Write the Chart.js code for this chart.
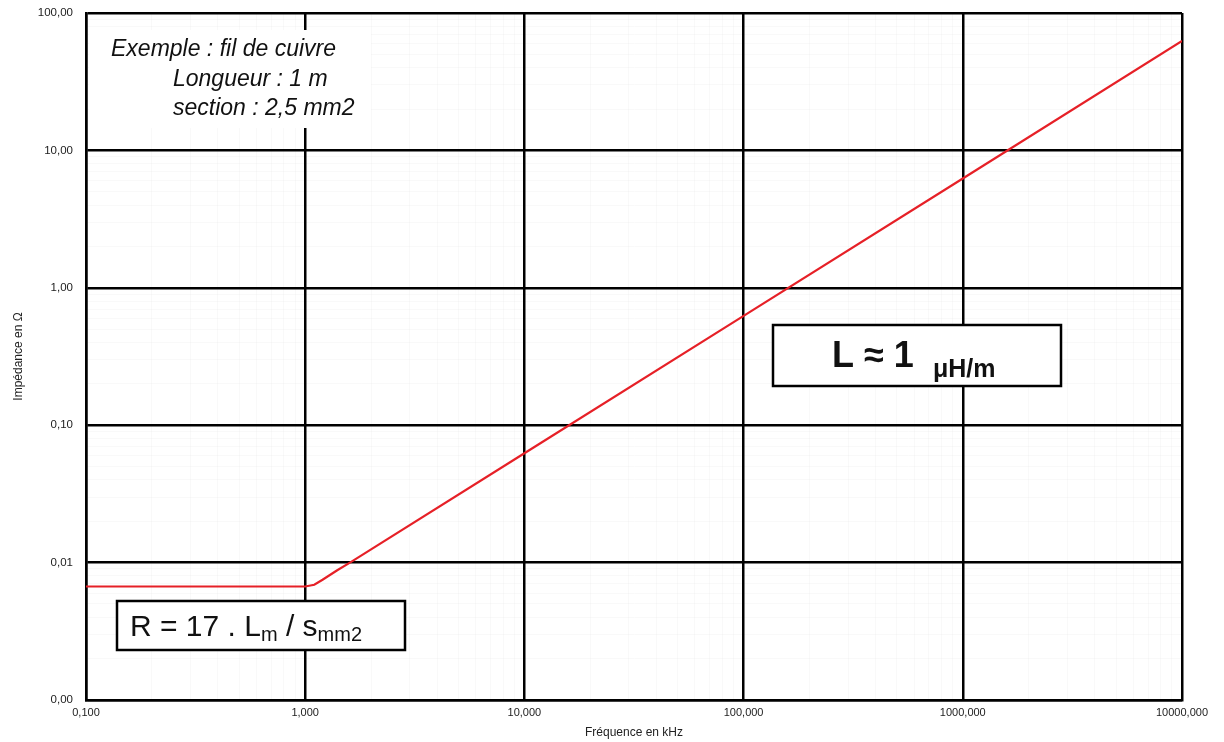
<!DOCTYPE html>
<html>
<head>
<meta charset="utf-8">
<script src="https://cdn.jsdelivr.net/npm/chart.js@4.4.1/dist/chart.umd.min.js"></script>
<style>
  html, body { margin: 0; padding: 0; background: #fff; }
  #wrap { width: 1224px; height: 742px; }
</style>
</head>
<body>
<div id="wrap"><canvas id="impChart" width="1224" height="742"></canvas></div>
<script>
// fréquence en kHz / impédance en ohm
const frequences = [0.1, 0.5, 1.0, 1.1, 1.2, 1.4, 1.6, 10, 100, 1000, 10000];
const impedances = [0.0067, 0.0067, 0.0067, 0.0069, 0.0075, 0.0088, 0.0100, 0.0625, 0.625, 6.25, 62.5];

const xTicks = [0.1, 1, 10, 100, 1000, 10000];
const xTickLabels = ['0,100', '1,000', '10,000', '100,000', '1000,000', '10000,000'];
const yTicks = [0.001, 0.01, 0.1, 1, 10, 100];
const yTickLabels = ['0,00', '0,01', '0,10', '1,00', '10,00', '100,00'];

const FONT = "'Liberation Sans', Arial, Helvetica, sans-serif";

function withMinor(majors) {
  const out = [];
  majors.forEach((m, i) => {
    out.push({ value: m, major: true });
    if (i < majors.length - 1) {
      for (let k = 2; k <= 9; k++) out.push({ value: m * k, major: false });
    }
  });
  return out;
}

function labelFor(majors, labels) {
  return function (value, index, ticks) {
    const t = ticks[index];
    if (!t || !t.major) return '';
    const i = majors.findIndex(m => Math.abs(m - value) / m < 1e-6);
    return i >= 0 ? labels[i] : '';
  };
}

const gridColor = ctx => (ctx.tick && ctx.tick.major) ? '#000' : 'rgba(0,0,0,0.025)';
const gridWidth = ctx => (ctx.tick && ctx.tick.major) ? 2.5 : 1;

// boîtes et textes
const notes = {
  id: 'notes',
  afterDraw(chart) {
    const c = chart.ctx;
    c.save();
    // cadre blanc sans bordure derrière la note
    c.fillStyle = '#fff';
    c.fillRect(89, 30, 282, 98);
    c.fillStyle = '#111';
    c.textBaseline = 'alphabetic';
    c.textAlign = 'left';
    c.font = 'italic 23px ' + FONT;
    c.fillText('Exemple : fil de cuivre', 111, 56);
    c.fillText('Longueur : 1 m', 173, 86);
    c.fillText('section : 2,5 mm2', 173, 115);

    // R box
    c.fillStyle = '#fff';
    c.fillRect(117, 601, 288, 49);
    c.strokeStyle = '#000';
    c.lineWidth = 2.5;
    c.strokeRect(117, 601, 288, 49);
    c.fillStyle = '#111';
    let x = 130;
    c.font = '30px ' + FONT;
    let s = 'R = 17 . L';
    c.fillText(s, x, 636); x += c.measureText(s).width;
    c.font = '20px ' + FONT;
    c.fillText('m', x, 641); x += c.measureText('m').width;
    c.font = '30px ' + FONT;
    s = ' / s';
    c.fillText(s, x, 636); x += c.measureText(s).width;
    c.font = '20px ' + FONT;
    c.fillText('mm2', x, 641);

    // L box
    c.fillStyle = '#fff';
    c.fillRect(773, 325, 288, 61);
    c.strokeRect(773, 325, 288, 61);
    c.fillStyle = '#111';
    c.font = 'bold 36px ' + FONT;
    c.fillText('L \u2248 1', 832, 367);
    c.font = 'bold 25px ' + FONT;
    c.fillText('\u03bcH/m', 933, 377);
    c.restore();
  }
};

const ctx = document.getElementById('impChart').getContext('2d');

const impChart = new Chart(ctx, {
  type: 'line',
  data: {
    datasets: [{
      label: 'Impédance',
      data: frequences.map((f, i) => ({ x: f, y: impedances[i] })),
      borderColor: '#e62027',
      borderWidth: 2.2,
      pointRadius: 0,
      tension: 0,
      fill: false
    }]
  },
  options: {
    responsive: false,
    maintainAspectRatio: false,
    animation: false,
    layout: { padding: { left: 0, right: 42, top: 13, bottom: 0 } },
    plugins: {
      legend: { display: false },
      tooltip: { enabled: false }
    },
    scales: {
      x: {
        type: 'logarithmic',
        min: 0.1,
        max: 10000,
        afterBuildTicks: scale => { scale.ticks = withMinor(xTicks); },
        afterFit: scale => {
          scale.height = 42;
          scale.paddingLeft = 0;
          scale.paddingRight = 0;
        },
        ticks: {
          autoSkip: false,
          maxRotation: 0,
          padding: 6,
          color: '#222',
          font: { family: FONT, size: 11 },
          callback: labelFor(xTicks, xTickLabels)
        },
        grid: { color: gridColor, lineWidth: gridWidth, drawTicks: false },
        border: { color: '#000', width: 2.5 },
        title: {
          display: true,
          text: 'Fréquence en kHz',
          color: '#222',
          font: { family: FONT, size: 12 },
          padding: { top: 0, bottom: 2 }
        }
      },
      y: {
        type: 'logarithmic',
        min: 0.001,
        max: 100,
        afterBuildTicks: scale => { scale.ticks = withMinor(yTicks); },
        afterFit: scale => {
          scale.width = 86;
          scale.paddingTop = 0;
          scale.paddingBottom = 0;
        },
        ticks: {
          autoSkip: false,
          padding: 13,
          color: '#222',
          font: { family: FONT, size: 11.5 },
          callback: labelFor(yTicks, yTickLabels)
        },
        grid: { color: gridColor, lineWidth: gridWidth, drawTicks: false },
        border: { color: '#000', width: 2.5 },
        title: {
          display: true,
          text: 'Impédance en Ω',
          color: '#222',
          font: { family: FONT, size: 12 },
          padding: { top: 11, bottom: 0 }
        }
      }
    }
  },
  plugins: [notes]
});
</script>
</body>
</html>
